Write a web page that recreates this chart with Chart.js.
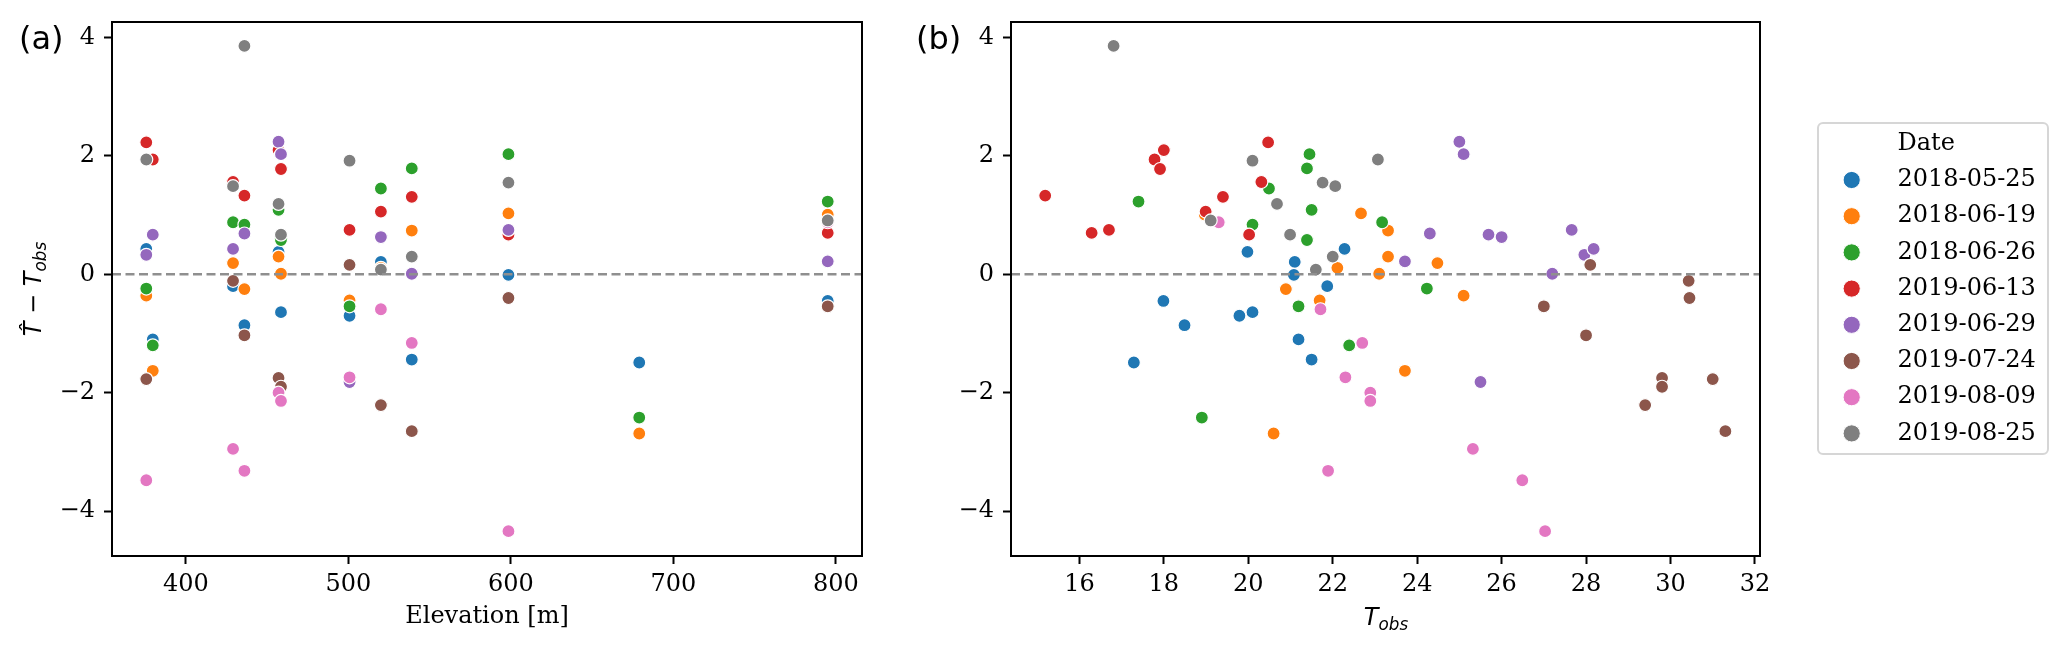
<!DOCTYPE html>
<html>
<head>
<meta charset="utf-8">
<script src="https://cdn.jsdelivr.net/npm/chart.js@4.4.0/dist/chart.umd.min.js"></script>
<style>
  body { margin: 0; background: #fff; width: 2067px; height: 647px; overflow: hidden; position: relative; }
  canvas { position: absolute; top: 0; }
  .panel { position: absolute; font-family: 'DejaVu Sans'; font-size: 32px; line-height: 32px; color: #000; }
  .mathlab { position: absolute; width: 200px; height: 24px; line-height: 24px; text-align: center;
             font-family: 'DejaVu Sans'; font-size: 24px; color: #000; white-space: nowrap; }
  .it { font-style: italic; }
  .sub { font-size: 70%; font-style: italic; position: relative; top: 0.3em; }
  #ylab { left: -67px; top: 277px; transform: rotate(-90deg); }
  #xlabB { left: 1286px; top: 605px; }
</style>
</head>
<body>
<canvas id="chartA" width="890" height="647" style="left:0"></canvas>
<canvas id="chartB" width="1177" height="647" style="left:890px"></canvas>
<div class="panel" style="left:19px;top:22px">(a)</div>
<div class="panel" style="left:916px;top:22px">(b)</div>
<div class="mathlab" id="ylab"><span class="it">T&#770;</span> &minus; <span class="it">T</span><span class="sub">obs</span></div>
<div class="mathlab" id="xlabB"><span class="it">T</span><span class="sub">obs</span></div>

<script>
// station elevations [m]
var elevation = [375.6, 379.6, 429, 436, 457, 458.5, 500.7, 520, 539, 598.5, 679, 795];

var dates = ['2018-05-25', '2018-06-19', '2018-06-26', '2019-06-13', '2019-06-29', '2019-07-24', '2019-08-09', '2019-08-25'];
var colors = ['#1f77b4', '#ff7f0e', '#2ca02c', '#d62728', '#9467bd', '#8c564b', '#e377c2', '#7f7f7f'];

// observed temperature per station (null = no measurement)
var tObs_180525 = [22.28, 21.19, 21.87, 18.49, 19.98, 20.10, 19.79, 21.10, 21.50, 21.08, 17.29, 17.99];
var tObs_180619 = [25.10, 23.71, 24.48, 20.89, 23.31, 23.10, 21.69, 22.11, 23.31, 22.67, 20.60, 18.97];
var tObs_180626 = [24.23, 22.39, 23.17, 20.10, 21.50, 21.39, 21.19, 20.49, 21.39, 21.45, 18.90, 17.40];
var tObs_190613 = [20.47, 17.78, 20.31, 15.19, 18.00, 17.91, 16.70, 18.99, 19.40, 20.02, null, 16.29];
var tObs_190629 = [27.96, 25.69, 28.18, 24.30, 25.00, 25.10, 25.50, 26.00, 27.20, 27.66, null, 23.71];
var tObs_190724 = [31.00, null, 30.43, 28.00, 29.80, 29.80, 28.10, 29.40, 31.30, 30.45, null, 27.00];
var tObs_190809 = [26.49, null, 25.32, 21.89, 22.89, 22.89, 22.30, 21.71, 22.70, 27.03, null, 19.30];
var tObs_190825 = [23.07, null, 22.06, 16.81, 20.68, 20.99, 20.10, 21.60, 22.00, 21.76, null, 19.11];

// residual T_hat - T_obs per station
var res_180525 = [0.43, -1.10, -0.20, -0.86, 0.38, -0.64, -0.70, 0.21, -1.44, -0.01, -1.49, -0.45];
var res_180619 = [-0.36, -1.63, 0.19, -0.25, 0.30, 0.01, -0.44, 0.11, 0.74, 1.03, -2.69, 1.01];
var res_180626 = [-0.24, -1.20, 0.88, 0.84, 1.09, 0.58, -0.54, 1.45, 1.79, 2.03, -2.42, 1.23];
var res_190613 = [2.23, 1.94, 1.56, 1.33, 2.10, 1.78, 0.75, 1.06, 1.31, 0.67, null, 0.70];
var res_190629 = [0.33, 0.67, 0.43, 0.69, 2.24, 2.03, -1.82, 0.63, 0.01, 0.75, null, 0.22];
var res_190724 = [-1.77, null, -0.11, -1.03, -1.75, -1.90, 0.16, -2.21, -2.65, -0.40, null, -0.54];
var res_190809 = [-3.48, null, -2.95, -3.32, -2.00, -2.14, -1.74, -0.59, -1.16, -4.34, null, 0.88];
var res_190825 = [1.94, null, 1.49, 3.86, 1.19, 0.67, 1.92, 0.08, 0.30, 1.55, null, 0.91];

var elevTicks = [400, 500, 600, 700, 800];
var tObsTicks = [16, 18, 20, 22, 24, 26, 28, 30, 32];
var resTicks = [-4, -2, 0, 2, 4];

var tObsByDate = [tObs_180525, tObs_180619, tObs_180626, tObs_190613, tObs_190629, tObs_190724, tObs_190809, tObs_190825];
var resByDate = [res_180525, res_180619, res_180626, res_190613, res_190629, res_190724, res_190809, res_190825];

function toPoints(xs, ys) {
  var out = [];
  for (var i = 0; i < xs.length; i++) {
    if (xs[i] != null && ys[i] != null) out.push({x: xs[i], y: ys[i]});
  }
  return out;
}

function makeDatasets(useTobs) {
  return dates.map(function(d, i) {
    return {
      label: d,
      data: toPoints(useTobs ? tObsByDate[i] : elevation, resByDate[i]),
      backgroundColor: colors[i],
      borderColor: '#ffffff',
      borderWidth: 1.2,
      pointRadius: 6.5,
      pointHoverRadius: 6.5,
      order: dates.length - 1 - i   // later dates drawn on top
    };
  });
}

var tickFont = {family: 'DejaVu Serif', size: 24};

// box around the plot area
var frame = {
  id: 'frame',
  afterDraw: function(chart) {
    var a = chart.chartArea, ctx = chart.ctx;
    ctx.save();
    ctx.strokeStyle = '#000';
    ctx.lineWidth = 2;
    ctx.strokeRect(a.left, a.top, a.right - a.left, a.bottom - a.top);
    ctx.restore();
  }
};

// dashed line at zero
var zeroLine = {
  id: 'zeroLine',
  afterDatasetsDraw: function(chart) {
    var a = chart.chartArea, ctx = chart.ctx;
    var y = chart.scales.y.getPixelForValue(0);
    ctx.save();
    ctx.strokeStyle = '#8f8f8f';
    ctx.lineWidth = 2.5;
    ctx.setLineDash([9, 4.5]);
    ctx.beginPath();
    ctx.moveTo(a.left, y);
    ctx.lineTo(a.right, y);
    ctx.stroke();
    ctx.restore();
  }
};

// legend box to the right of panel (b)
var dateLegend = {
  id: 'dateLegend',
  afterDraw: function(chart) {
    var ctx = chart.ctx;
    var x0 = chart.chartArea.right + 58, top = 123, w = 230, h = 331, rowH = 36.2;
    ctx.save();
    ctx.beginPath();
    ctx.roundRect(x0, top, w, h, 5);
    ctx.fillStyle = 'rgba(255,255,255,0.8)';
    ctx.fill();
    ctx.strokeStyle = '#d6d6d6';
    ctx.lineWidth = 2;
    ctx.stroke();
    ctx.font = '24px "DejaVu Serif"';
    ctx.textBaseline = 'middle';
    ctx.fillStyle = '#000';
    ctx.fillText('Date', x0 + 79.5, top + 20.8);
    chart.data.datasets.forEach(function(ds, i) {
      var cy = top + 20.8 + rowH * (i + 1);
      ctx.beginPath();
      ctx.arc(x0 + 33.7, cy, 8.6, 0, Math.PI * 2);
      ctx.fillStyle = ds.backgroundColor;
      ctx.fill();
      ctx.strokeStyle = '#fff';
      ctx.lineWidth = 1;
      ctx.stroke();
      ctx.fillStyle = '#000';
      ctx.fillText(ds.label, x0 + 79.5, cy);
    });
    ctx.restore();
  }
};

function makeOptions(xMin, xMax, xTicks, yWidth, padRight, xTitle) {
  return {
    responsive: false,
    animation: false,
    devicePixelRatio: 1,
    events: [],
    layout: {padding: {top: 22, right: padRight, bottom: 0, left: 0}},
    plugins: {legend: {display: false}, tooltip: {enabled: false}},
    scales: {
      x: {
        type: 'linear',
        min: xMin,
        max: xMax,
        afterBuildTicks: function(s) { s.ticks = xTicks.map(function(v) { return {value: v}; }); },
        afterFit: function(s) { s.height = 91; s.paddingLeft = 0; s.paddingRight = 0; },
        border: {display: false},
        grid: {drawOnChartArea: false, drawTicks: true, tickLength: 8, tickWidth: 2, tickColor: '#000'},
        ticks: {font: tickFont, color: '#000', padding: 6, maxRotation: 0},
        title: xTitle ? {display: true, text: xTitle, font: tickFont, color: '#000', padding: {top: 0, bottom: 16}} : {display: false}
      },
      y: {
        type: 'linear',
        min: -4.76,
        max: 4.264,
        afterBuildTicks: function(s) { s.ticks = resTicks.map(function(v) { return {value: v}; }); },
        afterFit: function(s) { s.width = yWidth; s.paddingTop = 0; s.paddingBottom = 0; },
        border: {display: false},
        grid: {drawOnChartArea: false, drawTicks: true, tickLength: 8, tickWidth: 2, tickColor: '#000'},
        ticks: {
          font: tickFont, color: '#000', padding: 9,
          callback: function(v) { return v < 0 ? '\u2212' + Math.abs(v) : String(v); }
        }
      }
    }
  };
}

new Chart(document.getElementById('chartA'), {
  type: 'scatter',
  data: {datasets: makeDatasets(false)},
  options: makeOptions(354.5, 816.1, elevTicks, 112, 28, 'Elevation [m]'),
  plugins: [zeroLine, frame]
});

new Chart(document.getElementById('chartB'), {
  type: 'scatter',
  data: {datasets: makeDatasets(true)},
  options: makeOptions(14.38, 32.12, tObsTicks, 121, 307, null),
  plugins: [zeroLine, frame, dateLegend]
});
</script>
</body>
</html>
